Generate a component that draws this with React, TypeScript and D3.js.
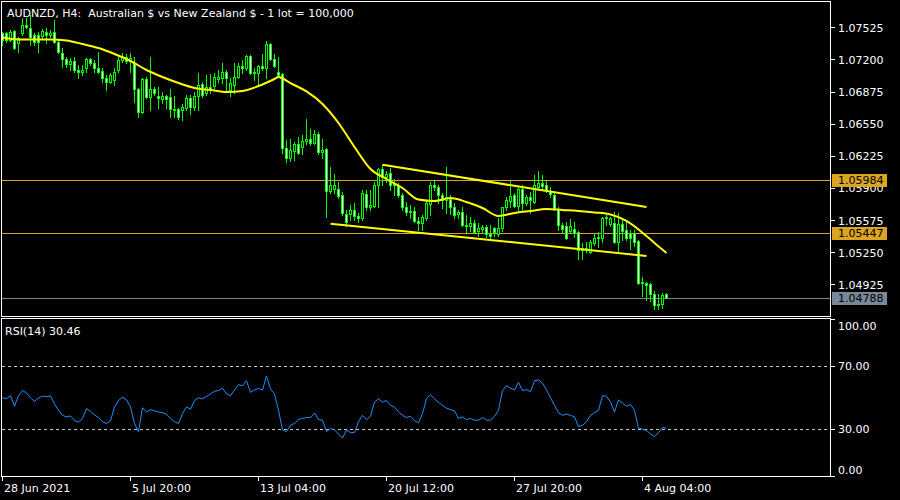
import React from 'react';
import * as d3 from 'd3';

const W = 900;
const H = 500;

const symbolTitle = 'AUDNZD, H4:  Australian $ vs New Zealand $ - 1 lot = 100,000';
const rsiTitle = 'RSI(14) 30.46';

const openP = [
  1.07467, 1.07467, 1.07396, 1.07487, 1.07366, 1.07467, 1.07548, 1.07518, 1.07447, 1.07447,
  1.07437, 1.07477, 1.07447, 1.07477, 1.07376, 1.07265, 1.07204, 1.07154, 1.07184, 1.07093,
  1.07073, 1.07113, 1.07204, 1.07164, 1.07113, 1.07083, 1.07012, 1.06972, 1.06992, 1.07093,
  1.07194, 1.07224, 1.07184, 1.07164, 1.06901, 1.06668, 1.07002, 1.06820, 1.06901, 1.06830,
  1.06800, 1.06830, 1.06820, 1.06698, 1.06698, 1.06688, 1.06709, 1.06810, 1.06719, 1.06830,
  1.06951, 1.06860, 1.06921, 1.06931, 1.07002, 1.07012, 1.07073, 1.06891, 1.06941, 1.07022,
  1.07133, 1.07113, 1.07235, 1.07063, 1.07063, 1.07133, 1.07113, 1.07356, 1.07204, 1.07073,
  1.07052, 1.06304, 1.06203, 1.06274, 1.06344, 1.06314, 1.06375, 1.06395, 1.06355, 1.06446,
  1.06264, 1.06294, 1.05869, 1.05889, 1.05889, 1.05829, 1.05636, 1.05636, 1.05677, 1.05616,
  1.05596, 1.05839, 1.05707, 1.05717, 1.05930, 1.06092, 1.06011, 1.06051, 1.05930, 1.05920,
  1.05829, 1.05707, 1.05657, 1.05667, 1.05566, 1.05545, 1.05596, 1.05738, 1.05930, 1.05909,
  1.05829, 1.05778, 1.05788, 1.05707, 1.05636, 1.05657, 1.05515, 1.05515, 1.05545, 1.05464,
  1.05485, 1.05505, 1.05434, 1.05495, 1.05434, 1.05495, 1.05707, 1.05768, 1.05829, 1.05717,
  1.05889, 1.05748, 1.05808, 1.05758, 1.05909, 1.05950, 1.05930, 1.05869, 1.05829, 1.05687,
  1.05525, 1.05515, 1.05464, 1.05485, 1.05454, 1.05272, 1.05292, 1.05252, 1.05343, 1.05394,
  1.05394, 1.05596, 1.05535, 1.05545, 1.05353, 1.05535, 1.05475, 1.05444, 1.05444, 1.05363,
  1.04938, 1.04938, 1.04928, 1.04827, 1.04716, 1.04726, 1.04827,
];

const highP = [
  1.07477, 1.07477, 1.07498, 1.07498, 1.07427, 1.07619, 1.07619, 1.07649, 1.07467, 1.07477,
  1.07508, 1.07518, 1.07498, 1.07599, 1.07396, 1.07315, 1.07224, 1.07214, 1.07224, 1.07144,
  1.07144, 1.07214, 1.07214, 1.07194, 1.07275, 1.07113, 1.07042, 1.07063, 1.07113, 1.07224,
  1.07265, 1.07255, 1.07265, 1.07224, 1.06911, 1.07012, 1.07022, 1.07224, 1.06921, 1.06921,
  1.06870, 1.06840, 1.06901, 1.06830, 1.06709, 1.06749, 1.06840, 1.06840, 1.06870, 1.07063,
  1.06972, 1.07042, 1.07052, 1.07063, 1.07093, 1.07164, 1.07093, 1.07012, 1.07164, 1.07164,
  1.07194, 1.07245, 1.07245, 1.07113, 1.07144, 1.07255, 1.07386, 1.07366, 1.07255, 1.07224,
  1.07063, 1.06385, 1.06395, 1.06365, 1.06415, 1.06435, 1.06597, 1.06496, 1.06486, 1.06466,
  1.06395, 1.06304, 1.06112, 1.06041, 1.05960, 1.05859, 1.05677, 1.05727, 1.05748, 1.05647,
  1.05879, 1.05879, 1.05879, 1.05960, 1.06102, 1.06132, 1.06071, 1.06102, 1.05990, 1.05950,
  1.05849, 1.05758, 1.05727, 1.05707, 1.05606, 1.05626, 1.05778, 1.05960, 1.05980, 1.05930,
  1.05849, 1.06112, 1.05829, 1.05748, 1.05677, 1.05707, 1.05626, 1.05606, 1.05576, 1.05545,
  1.05525, 1.05525, 1.05525, 1.05505, 1.05596, 1.05707, 1.05808, 1.05980, 1.05849, 1.05909,
  1.05930, 1.05829, 1.05859, 1.06031, 1.06071, 1.06031, 1.05970, 1.05909, 1.05849, 1.05707,
  1.05545, 1.05555, 1.05586, 1.05555, 1.05464, 1.05343, 1.05353, 1.05373, 1.05434, 1.05454,
  1.05606, 1.05626, 1.05606, 1.05657, 1.05647, 1.05576, 1.05576, 1.05475, 1.05475, 1.05373,
  1.04999, 1.04949, 1.04938, 1.04858, 1.04827, 1.04837, 1.04837,
];

const lowP = [
  1.07346, 1.07376, 1.07386, 1.07305, 1.07275, 1.07447, 1.07518, 1.07346, 1.07346, 1.07275,
  1.07417, 1.07366, 1.07427, 1.07366, 1.07265, 1.07123, 1.07123, 1.07093, 1.07073, 1.07012,
  1.07042, 1.07073, 1.07144, 1.07073, 1.07063, 1.06972, 1.06891, 1.06961, 1.06941, 1.07073,
  1.07174, 1.07164, 1.07073, 1.06769, 1.06618, 1.06658, 1.06810, 1.06688, 1.06840, 1.06709,
  1.06759, 1.06709, 1.06618, 1.06618, 1.06597, 1.06587, 1.06688, 1.06648, 1.06688, 1.06688,
  1.06820, 1.06840, 1.06860, 1.06911, 1.06972, 1.06961, 1.06891, 1.06830, 1.06860, 1.07012,
  1.07063, 1.07093, 1.07052, 1.06992, 1.06941, 1.07093, 1.07012, 1.07194, 1.07123, 1.07022,
  1.06253, 1.06162, 1.06172, 1.06183, 1.06243, 1.06243, 1.06344, 1.06334, 1.06344, 1.06243,
  1.06203, 1.05606, 1.05849, 1.05849, 1.05798, 1.05626, 1.05515, 1.05576, 1.05576, 1.05555,
  1.05576, 1.05677, 1.05677, 1.05707, 1.05707, 1.05930, 1.05960, 1.05879, 1.05829, 1.05808,
  1.05677, 1.05626, 1.05596, 1.05555, 1.05475, 1.05475, 1.05576, 1.05626, 1.05879, 1.05748,
  1.05697, 1.05647, 1.05636, 1.05596, 1.05596, 1.05515, 1.05444, 1.05464, 1.05444, 1.05414,
  1.05444, 1.05404, 1.05394, 1.05414, 1.05414, 1.05464, 1.05677, 1.05707, 1.05707, 1.05667,
  1.05667, 1.05727, 1.05647, 1.05748, 1.05899, 1.05879, 1.05859, 1.05808, 1.05677, 1.05475,
  1.05454, 1.05384, 1.05454, 1.05404, 1.05181, 1.05181, 1.05252, 1.05242, 1.05323, 1.05303,
  1.05353, 1.05525, 1.05515, 1.05343, 1.05252, 1.05373, 1.05373, 1.05282, 1.05313, 1.04928,
  1.04807, 1.04766, 1.04756, 1.04675, 1.04675, 1.04686, 1.04787,
];

const closeP = [
  1.07396, 1.07396, 1.07477, 1.07315, 1.07417, 1.07548, 1.07528, 1.07427, 1.07376, 1.07376,
  1.07487, 1.07447, 1.07467, 1.07376, 1.07275, 1.07204, 1.07154, 1.07184, 1.07093, 1.07073,
  1.07093, 1.07204, 1.07164, 1.07113, 1.07073, 1.07012, 1.06972, 1.07042, 1.07073, 1.07194,
  1.07224, 1.07184, 1.07214, 1.06901, 1.06668, 1.07002, 1.06820, 1.06901, 1.06860, 1.06810,
  1.06830, 1.06800, 1.06698, 1.06688, 1.06618, 1.06719, 1.06810, 1.06719, 1.06830, 1.06941,
  1.06840, 1.06921, 1.06901, 1.07022, 1.07022, 1.07073, 1.07012, 1.06961, 1.07022, 1.07133,
  1.07113, 1.07235, 1.07063, 1.07073, 1.07133, 1.07113, 1.07356, 1.07204, 1.07133, 1.07042,
  1.06304, 1.06203, 1.06284, 1.06344, 1.06253, 1.06375, 1.06395, 1.06355, 1.06446, 1.06264,
  1.06284, 1.05869, 1.05930, 1.05930, 1.05818, 1.05647, 1.05555, 1.05677, 1.05616, 1.05596,
  1.05849, 1.05707, 1.05727, 1.05930, 1.06092, 1.06011, 1.06041, 1.05930, 1.05940, 1.05829,
  1.05707, 1.05657, 1.05667, 1.05566, 1.05545, 1.05606, 1.05748, 1.05930, 1.05909, 1.05829,
  1.05778, 1.05808, 1.05707, 1.05626, 1.05657, 1.05525, 1.05525, 1.05545, 1.05454, 1.05495,
  1.05505, 1.05434, 1.05414, 1.05454, 1.05495, 1.05707, 1.05778, 1.05818, 1.05717, 1.05889,
  1.05748, 1.05808, 1.05778, 1.05930, 1.05950, 1.05920, 1.05879, 1.05839, 1.05697, 1.05525,
  1.05485, 1.05394, 1.05515, 1.05444, 1.05272, 1.05292, 1.05282, 1.05353, 1.05394, 1.05404,
  1.05596, 1.05606, 1.05596, 1.05353, 1.05535, 1.05464, 1.05394, 1.05394, 1.05353, 1.04938,
  1.04949, 1.04918, 1.04827, 1.04716, 1.04726, 1.04817, 1.04788,
];

const maBars = [0, 4, 8, 12, 16, 20, 24, 28, 32, 36, 40, 44, 48, 52, 56, 60, 64, 68, 69, 70, 72, 76, 80, 84, 88, 92, 96, 100, 104, 108, 112, 116, 120, 124, 128, 132, 136, 140, 144, 148, 152, 156, 160, 163, 166];
const maValues = [
  1.07422, 1.07402, 1.07402, 1.07402, 1.07391, 1.07356, 1.07315, 1.07255, 1.07184, 1.07093,
  1.07022, 1.06961, 1.06911, 1.06891, 1.06870, 1.06881, 1.06931, 1.07002, 1.07022, 1.07007,
  1.06961, 1.06876, 1.06749, 1.06557, 1.06314, 1.06092, 1.05990, 1.05899, 1.05783, 1.05768,
  1.05798, 1.05758, 1.05697, 1.05616, 1.05647, 1.05667, 1.05687, 1.05677, 1.05667, 1.05652,
  1.05631, 1.05566, 1.05447, 1.05343, 1.05242,
];

const rsiValues = [
  49.8, 49.2, 51.2, 44.4, 51.2, 54.4, 52.9, 49.8, 47.5, 49.8,
  50.8, 50.6, 51.0, 46.0, 41.9, 38.7, 37.7, 38.3, 35.4, 34.4,
  36.7, 42.9, 41.2, 38.9, 37.3, 34.6, 33.5, 35.2, 44.0, 48.1,
  50.2, 48.5, 44.0, 33.5, 28.3, 43.5, 40.8, 42.3, 41.5, 40.8,
  40.4, 39.4, 36.7, 34.6, 33.5, 39.8, 44.0, 42.5, 48.1, 49.8,
  49.2, 50.6, 52.3, 54.0, 54.4, 56.0, 52.3, 51.2, 54.8, 58.1,
  57.5, 60.6, 53.3, 54.8, 55.8, 54.8, 63.7, 55.4, 52.3, 41.9,
  29.4, 28.3, 32.5, 33.5, 36.0, 36.7, 37.3, 37.3, 40.2, 36.0,
  35.6, 28.3, 30.4, 29.4, 26.9, 24.2, 29.4, 27.7, 27.7, 34.6,
  38.7, 36.0, 38.1, 47.1, 49.2, 47.1, 48.1, 45.0, 44.0, 40.8,
  38.7, 37.3, 38.1, 35.2, 34.0, 39.8, 49.2, 51.7, 49.2, 46.9,
  45.0, 43.3, 42.3, 41.5, 36.7, 37.7, 36.0, 36.7, 35.6, 35.6,
  37.3, 35.6, 35.6, 38.1, 41.9, 54.4, 57.5, 56.0, 54.8, 59.6,
  54.4, 55.0, 53.7, 60.6, 61.2, 59.0, 54.8, 49.8, 45.0, 40.2,
  38.7, 39.4, 38.7, 37.7, 31.5, 32.3, 34.6, 38.7, 40.4, 41.9,
  51.2, 50.8, 47.1, 40.8, 48.5, 46.5, 44.4, 45.6, 41.9, 30.4,
  30.0, 29.0, 26.9, 25.2, 27.7, 31.0, 30.46,
];

const priceTicks = [1.07525, 1.072, 1.06875, 1.0655, 1.06225, 1.059, 1.05575, 1.0525, 1.04925];
const rsiTicks = [100, 70, 30, 0];
const rsiLevels = [70, 30];
const timeTickBars = [0, 32, 64, 96, 128, 160];
const timeTickLabels = ['28 Jun 2021', '5 Jul 20:00', '13 Jul 04:00', '20 Jul 12:00', '27 Jul 20:00', '4 Aug 04:00'];

const goldLevels = [1.05984, 1.05447];
const bidLevel = 1.04788;

const upperTrendBars = [95, 161];
const upperTrendPrices = [1.06135, 1.05707];
const lowerTrendBars = [82, 161];
const lowerTrendPrices = [1.05538, 1.05212];

const FONT = "'DejaVu Sans', sans-serif";
const LIME = '#00FF00';
const GOLD = '#DAA520';
const SLATE = '#778899';

export default function App() {
  const n = closeP.length;
  const x = d3.scaleLinear().domain([0, 166]).range([2.5, 666.5]);
  const y = d3.scaleLinear().domain([1.07525, 1.04925]).range([27.3, 284.3]);
  const ry = d3.scaleLinear().domain([0, 100]).range([476.25, 318.75]);

  const axisX = 831;

  const maLine = d3
    .line<number>()
    .x((_, k) => x(maBars[k]))
    .y((v) => y(v))
    .curve(d3.curveMonotoneX);

  const rsiLine = d3
    .line<number>()
    .x((_, k) => x(k))
    .y((v) => ry(v));

  const trend = d3
    .line<number>()
    .x((d) => d);

  const candles = d3.range(n).map((i) => {
    const o = openP[i];
    const c = closeP[i];
    const cx = Math.floor(x(i));
    const top = Math.round(y(Math.max(o, c)));
    const bot = Math.round(y(Math.min(o, c)));
    const hi = Math.round(y(highP[i]));
    const lo = Math.round(y(lowP[i]));
    const bull = c > o;
    const h = bot - top + 1;
    return (
      <g key={i}>
        <rect x={cx} y={hi} width={1} height={Math.max(1, lo - hi + 1)} fill={LIME} />
        <rect x={cx - 1} y={top} width={3} height={h} fill={LIME} />
        {h > 2 && (
          <rect x={cx} y={top + 1} width={1} height={h - 2} fill={bull ? '#000000' : '#FFFFFF'} />
        )}
      </g>
    );
  });

  const trendPath = (bars: number[], prices: number[]) =>
    `M${x(bars[0])},${y(prices[0])}L${x(bars[1])},${y(prices[1])}`;

  return (
    <svg
      width={W}
      height={H}
      viewBox={`0 0 ${W} ${H}`}
      style={{ position: 'absolute', left: 0, top: 0, display: 'block' }}
      fontFamily={FONT}
    >
      <rect x={0} y={0} width={W} height={H} fill="#000000" />

      {/* main panel */}
      <g shapeRendering="crispEdges">
        {goldLevels.map((p) => (
          <line key={p} x1={2} x2={axisX} y1={Math.round(y(p)) + 0.5} y2={Math.round(y(p)) + 0.5} stroke={GOLD} strokeWidth={1} />
        ))}
        <line x1={2} x2={axisX} y1={Math.round(y(bidLevel)) + 0.5} y2={Math.round(y(bidLevel)) + 0.5} stroke={SLATE} strokeWidth={1} />
        {candles}
      </g>

      <path d={maLine(maValues) || ''} fill="none" stroke="#FFFF00" strokeWidth={2} />
      <path d={trendPath(upperTrendBars, upperTrendPrices)} fill="none" stroke="#FFFF00" strokeWidth={2} />
      <path d={trendPath(lowerTrendBars, lowerTrendPrices)} fill="none" stroke="#FFFF00" strokeWidth={2} />

      <text x={7} y={16.5} fill="#FFFFFF" fontSize={11} style={{ whiteSpace: 'pre' }}>
        {symbolTitle}
      </text>

      {/* frames */}
      <g shapeRendering="crispEdges" fill="none" stroke="#FFFFFF" strokeWidth={1}>
        <rect x={1.5} y={1.5} width={axisX - 1.5 - 0.5} height={315} />
        <rect x={1.5} y={318.5} width={axisX - 1.5 - 0.5} height={158} />
      </g>

      {/* price axis */}
      <g shapeRendering="crispEdges">
        {priceTicks.map((p) => (
          <g key={p}>
            <line x1={axisX} x2={axisX + 4} y1={Math.round(y(p)) + 0.5} y2={Math.round(y(p)) + 0.5} stroke="#FFFFFF" />
            <text x={838} y={y(p) + 4.5} fill="#FFFFFF" fontSize={11}>
              {p.toFixed(5)}
            </text>
          </g>
        ))}
        {goldLevels.map((p) => (
          <g key={'g' + p}>
            <rect x={832} y={Math.round(y(p)) - 6} width={55} height={13} fill={GOLD} />
            <text x={838} y={y(p) + 4.5} fill="#000000" fontSize={11}>
              {p.toFixed(5)}
            </text>
          </g>
        ))}
        <rect x={832} y={Math.round(y(bidLevel)) - 6} width={55} height={13} fill={SLATE} />
        <text x={838} y={y(bidLevel) + 4.5} fill="#000000" fontSize={11}>
          {bidLevel.toFixed(5)}
        </text>
      </g>

      {/* RSI panel */}
      <g shapeRendering="crispEdges">
        {rsiLevels.map((v) => (
          <line key={v} x1={2} x2={axisX} y1={Math.round(ry(v)) + 0.5} y2={Math.round(ry(v)) + 0.5} stroke="#C8C8C8" strokeDasharray="3,3" />
        ))}
        {rsiTicks.map((v) => (
          <line key={'t' + v} x1={axisX} x2={axisX + 4} y1={Math.round(ry(v)) + 0.5} y2={Math.round(ry(v)) + 0.5} stroke="#FFFFFF" />
        ))}
      </g>
      <path d={rsiLine(rsiValues) || ''} fill="none" stroke="#1E90FF" strokeWidth={1} />
      <text x={5} y={334.5} fill="#FFFFFF" fontSize={11}>
        {rsiTitle}
      </text>
      {rsiTicks.map((v) => {
        const ty = Math.min(Math.max(ry(v) + 4, 330), 474);
        return (
          <text key={'l' + v} x={838} y={ty} fill="#FFFFFF" fontSize={11}>
            {v.toFixed(2)}
          </text>
        );
      })}

      {/* time axis */}
      <g shapeRendering="crispEdges">
        {timeTickBars.map((b) => (
          <line key={b} x1={Math.floor(x(b)) + 0.5} x2={Math.floor(x(b)) + 0.5} y1={477} y2={481} stroke="#FFFFFF" />
        ))}
      </g>
      {timeTickBars.map((b, k) => (
        <text key={'tl' + b} x={Math.floor(x(b)) + 2} y={491.5} fill="#FFFFFF" fontSize={11}>
          {timeTickLabels[k]}
        </text>
      ))}
    </svg>
  );
}
